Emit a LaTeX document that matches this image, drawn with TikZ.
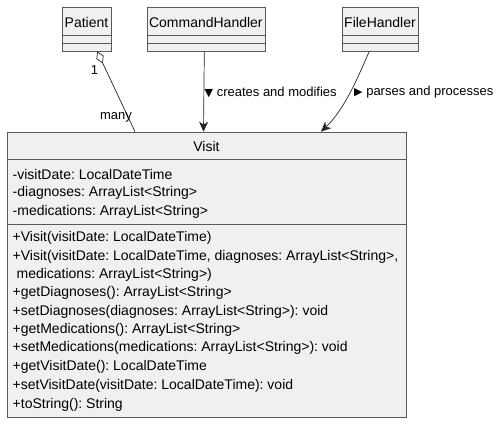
\documentclass[tikz,border=0pt]{standalone}
\usepackage{fontspec}
\setmainfont{Liberation Sans}
\newfontfamily\symfont{DejaVu Sans}
\usetikzlibrary{arrows.meta}
\frenchspacing
\begin{document}
\begin{tikzpicture}[x=1pt,y=-1pt,
  cls/.style={draw=black!65, line width=0.5pt, fill=black!6, inner sep=0pt, anchor=north west},
  sep/.style={draw=black!65, line width=0.5pt},
  ttl/.style={font=\fontsize{14}{16}\selectfont, inner sep=0pt},
  mem/.style={font=\fontsize{14}{16}\selectfont, inner sep=0pt, anchor=west},
  lbl/.style={font=\fontsize{13}{15}\selectfont, inner sep=0pt},
  conn/.style={draw=black!85, line width=0.7pt},
  head/.style={-{Stealth[length=10pt,width=9pt,inset=3pt]}}
]
\useasboundingbox (0,0) rectangle (500,423);
% class boxes
\node[cls, minimum width=49pt, minimum height=44pt] (patient) at (62,7) {};
\node[cls, minimum width=118.3pt, minimum height=44pt] (command) at (146.7,7) {};
\node[cls, minimum width=76.6pt, minimum height=44pt] (file) at (341.7,7) {};
\node[cls, minimum width=398.4pt, minimum height=285.6pt] (visit) at (7.3,131.7) {};
% separators
\foreach \b in {patient,command,file}{
  \draw[sep] (\b.west |- 0,35) -- (\b.east |- 0,35);
  \draw[sep] (\b.west |- 0,43) -- (\b.east |- 0,43);
}
\draw[sep] (visit.west |- 0,159.3) -- (visit.east |- 0,159.3);
\draw[sep] (visit.west |- 0,224) -- (visit.east |- 0,224);
% titles
\node[ttl] (tp) at (86.5,22) {Patient};
\node[ttl] (tc) at (205.85,22) {CommandHandler};
\node[ttl] (tf) at (380,22) {FileHandler};
\node[ttl] (tv) at (206.5,146.5) {Visit};
% attributes
\node[mem] (a1) at (12.5,174.3) {-visitDate: LocalDateTime};
\node[mem] (a2) at (12.5,193.0) {-diagnoses: ArrayList<String>};
\node[mem] (a3) at (12.5,211.7) {-medications: ArrayList<String>};
% methods
\node[mem] (m1) at (12.5,238.3) {+Visit(visitDate: LocalDateTime)};
\node[mem] (m2) at (12.5,256.7) {+Visit(visitDate: LocalDateTime, diagnoses: ArrayList<String>,};
\node[mem] (m3) at (12.5,275.0) {\ medications: ArrayList<String>)};
\node[mem] (m4) at (12.5,293.3) {+getDiagnoses(): ArrayList<String>};
\node[mem] (m5) at (12.5,311.7) {+setDiagnoses(diagnoses: ArrayList<String>): void};
\node[mem] (m6) at (12.5,330.0) {+getMedications(): ArrayList<String>};
\node[mem] (m7) at (12.5,348.3) {+setMedications(medications: ArrayList<String>): void};
\node[mem] (m8) at (12.5,367.0) {+getVisitDate(): LocalDateTime};
\node[mem] (m9) at (12.5,386.0) {+setVisitDate(visitDate: LocalDateTime): void};
\node[mem] (m10) at (12.5,404.7) {+toString(): String};
% connectors
\coordinate (pv) at (visit.north -| 135,0);
\draw[conn, {Diamond[open,length=13pt,width=8pt]}-] ([xshift=10.5pt]patient.south) -- (pv);
\node[lbl] (one) at (94.5,70.5) {1};
\node[lbl] (many) at (116,117) {many};
\coordinate (cv) at (visit.north -| 203.5,0);
\draw[conn, head] ([xshift=-1.8pt]command.south) -- (cv);
\node[lbl, anchor=west] (lc) at (204.5,92) {{\symfont\fontsize{11}{12}\selectfont ▼}\ creates and modifies};
\coordinate (fv) at (visit.north -| 321,0);
\draw[conn, head] ([xshift=-11pt]file.south) .. controls (360,72) and (346,108) .. (fv);
\node[lbl, anchor=west] (lf) at (354,92) {{\symfont\fontsize{11}{12}\selectfont ▶}\ parses and processes};
\end{tikzpicture}
\end{document}
